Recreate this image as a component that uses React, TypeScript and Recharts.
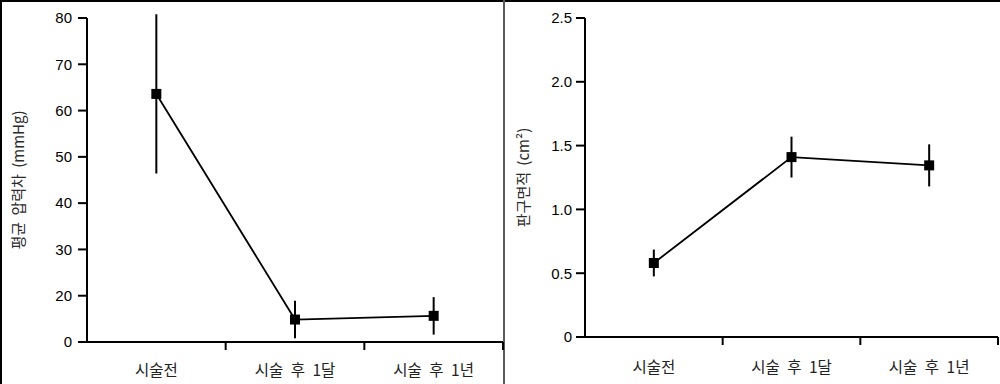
import React from "react";
import { LineChart, Line, XAxis, YAxis, ErrorBar } from "recharts";

// ---- data ----
const categories = ["시술전", "시술 후 1달", "시술 후 1년"];

// left panel: mean pressure gradient (mmHg)
const pressureMean = [63.6, 9.7, 11.3];
const pressureSd = [17.2, 8.1, 8.1];
const pressureTicks = [0, 20, 30, 40, 50, 60, 70, 80];

// right panel: valve area (cm²)
const areaMean = [0.58, 1.41, 1.345];
const areaSd = [0.105, 0.16, 0.165];
const areaTicks = [0, 0.5, 1, 1.5, 2, 2.5];

// the left axis in the source is drawn with evenly spaced labels (0,20,30,...,80)
const toPressureAxis = (v: number) => {
  const t = pressureTicks;
  for (let i = 0; i < t.length - 1; i++) {
    if (v <= t[i + 1] || i === t.length - 2) {
      return i + (v - t[i]) / (t[i + 1] - t[i]);
    }
  }
  return 0;
};

const pressureData = categories.map((c, i) => {
  const m = toPressureAxis(pressureMean[i]);
  const lo = toPressureAxis(pressureMean[i] - pressureSd[i]);
  const hi = toPressureAxis(pressureMean[i] + pressureSd[i]);
  return { x: i + 0.5, name: c, y: m, err: [m - lo, hi - m] };
});

const areaData = categories.map((c, i) => ({
  x: i + 0.5,
  name: c,
  y: areaMean[i],
  err: areaSd[i],
}));

const xTicks = [0.5, 1, 1.5, 2, 2.5, 3];

const NUM_FONT = "'Liberation Sans', Arial, sans-serif";
const KR_FONT = "'Noto Sans CJK KR', 'Noto Sans', sans-serif";

const makeXTick = (labelDy: number) => (props: any) => {
  const { x, y, payload } = props;
  const v = payload.value as number;
  if (Math.abs(v - Math.round(v)) < 1e-6) {
    return (
      <line x1={x} y1={y} x2={x} y2={y + 8} stroke="#000" strokeWidth={2} />
    );
  }
  const idx = Math.floor(v);
  return (
    <text
      x={x}
      y={y + labelDy}
      textAnchor="middle"
      dominantBaseline="central"
      fontFamily={KR_FONT}
      fontSize={15.5}
      fill="#222"
      style={{ wordSpacing: 4 }}
    >
      {categories[idx]}
    </text>
  );
};

const makeYTitle = (text: string) => (props: any) => {
  const vb = props.viewBox || { x: 0, y: 0, width: 0, height: 0 };
  const cx = vb.x + 17;
  const cy = vb.y + vb.height / 2;
  return (
    <text
      x={cx}
      y={cy}
      transform={`rotate(-90 ${cx} ${cy})`}
      textAnchor="middle"
      dominantBaseline="central"
      fontFamily={KR_FONT}
      fontSize={15}
      fill="#2a2a2a"
      style={{ wordSpacing: 3 }}
    >
      {text}
    </text>
  );
};

const squareDot = (p: any) => (
  <rect
    key={`d-${p.index}`}
    x={p.cx - 5}
    y={p.cy - 5}
    width={10}
    height={10}
    fill="#000"
  />
);

const axisLine = { stroke: "#000", strokeWidth: 2 };
const yTickLine = { stroke: "#000", strokeWidth: 2 };
const yTick = { fill: "#000", fontSize: 15, fontFamily: NUM_FONT };

export default function App() {
  return (
    <div
      style={{
        position: "absolute",
        left: 0,
        top: 0,
        width: 1000,
        height: 384,
        background: "#fff",
        overflow: "hidden",
      }}
    >
      {/* frame */}
      <div style={{ position: "absolute", left: 0, top: 0, width: 1000, height: 2, background: "#000" }} />
      <div style={{ position: "absolute", left: 0, top: 0, width: 2, height: 384, background: "#000" }} />
      <div style={{ position: "absolute", left: 503, top: 0, width: 2, height: 384, background: "#5a5a5a" }} />

      <div style={{ position: "absolute", left: 0, top: 0 }}>
        <LineChart
          width={504}
          height={384}
          data={pressureData}
          margin={{ top: 18, right: 1, bottom: 0, left: 0 }}
        >
          <XAxis
            dataKey="x"
            type="number"
            domain={[0, 3]}
            ticks={xTicks}
            interval={0}
            height={42}
            tickSize={0}
            tickMargin={0}
            tickLine={false}
            axisLine={axisLine}
            tick={makeXTick(27)}
          />
          <YAxis
            type="number"
            domain={[0, pressureTicks.length - 1]}
            ticks={pressureTicks.map((_, i) => i)}
            interval={0}
            allowDataOverflow
            width={87}
            tickSize={9}
            tickMargin={6}
            tickLine={yTickLine}
            axisLine={axisLine}
            tick={yTick}
            tickFormatter={(i: number) => String(pressureTicks[i])}
            label={{ content: makeYTitle("평균 압력차 (mmHg)") }}
          />
          <Line
            dataKey="y"
            stroke="#000"
            strokeWidth={1.8}
            dot={squareDot}
            activeDot={false}
            isAnimationActive={false}
          >
            <ErrorBar dataKey="err" width={0} stroke="#000" strokeWidth={2} direction="y" />
          </Line>
        </LineChart>
      </div>

      <div style={{ position: "absolute", left: 505, top: 0 }}>
        <LineChart
          width={495}
          height={384}
          data={areaData}
          margin={{ top: 18, right: 2, bottom: 0, left: 0 }}
        >
          <XAxis
            dataKey="x"
            type="number"
            domain={[0, 3]}
            ticks={xTicks}
            interval={0}
            height={47}
            tickSize={0}
            tickMargin={0}
            tickLine={false}
            axisLine={axisLine}
            tick={makeXTick(29)}
          />
          <YAxis
            type="number"
            domain={[0, 2.5]}
            ticks={areaTicks}
            interval={0}
            allowDataOverflow
            width={80}
            tickSize={9}
            tickMargin={4}
            tickLine={yTickLine}
            axisLine={axisLine}
            tick={yTick}
            tickFormatter={(v: number) => (v === 0 ? "0" : v.toFixed(1))}
            label={{ content: makeYTitle("판구면적 (cm²)") }}
          />
          <Line
            dataKey="y"
            stroke="#000"
            strokeWidth={1.8}
            dot={squareDot}
            activeDot={false}
            isAnimationActive={false}
          >
            <ErrorBar dataKey="err" width={0} stroke="#000" strokeWidth={2} direction="y" />
          </Line>
        </LineChart>
      </div>
    </div>
  );
}
